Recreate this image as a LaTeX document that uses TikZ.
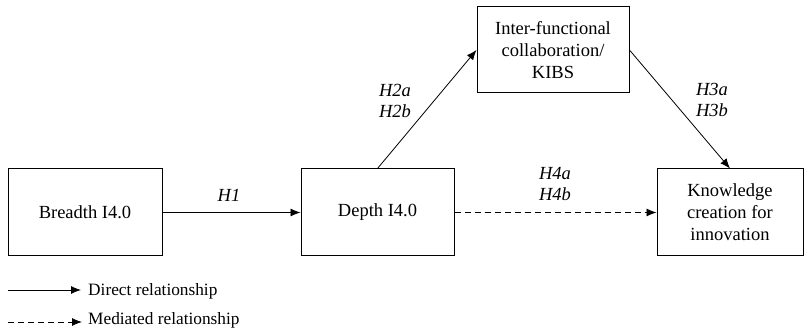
\documentclass[tikz,border=0pt]{standalone}
\usepackage{fontspec}
\setmainfont{Liberation Serif}
\usetikzlibrary{arrows.meta}
\begin{document}
\begin{tikzpicture}[x=1pt,y=-1pt,
  box/.style={draw,line width=1pt,align=center,inner sep=0pt,font=\fontsize{18.5}{22}\selectfont},
  lab/.style={align=center,inner sep=0pt,font=\fontsize{18.5}{21}\selectfont\itshape},
  leg/.style={anchor=base west,inner sep=0pt,font=\fontsize{17.3}{20}\selectfont},
  arr/.style={line width=0.8pt,-{Latex[length=10pt,width=8pt]}},
  dsh/.style={arr,dash pattern=on 6pt off 4pt}]
\useasboundingbox (0,0) rectangle (804,331);
\node[box,minimum width=154pt,minimum height=87pt] (br) at (85,212.5) {Breadth I4.0};
\node[box,minimum width=153pt,minimum height=87pt] (de) at (377.5,212.5) {Depth I4.0};
\node[box,minimum width=152pt,minimum height=86pt] (in) at (553,50) {Inter-functional\\collaboration/\\KIBS};
\node[box,minimum width=146pt,minimum height=87pt] (kn) at (730,212.5) {Knowledge\\creation for\\innovation};
\draw[arr] (br.east) -- (de.west);
\draw[arr] (de.north) -- (in.west);
\draw[arr] (in.east) -- (kn.north);
\draw[dsh] (de.east) -- (kn.west);
\node[lab] (h1) at (229,195) {H1};
\node[lab] (h2) at (395,101) {H2a\\H2b};
\node[lab] (h3) at (712,100) {H3a\\H3b};
\node[lab] (h4) at (555,184) {H4a\\H4b};
\coordinate (l1a) at (8,290);
\coordinate (l1b) at (81,290);
\coordinate (l2a) at (8,322);
\coordinate (l2b) at (82,322);
\draw[arr] (l1a) -- (l1b);
\draw[dsh] (l2a) -- (l2b);
\node[leg] (t1) at (88,296) {Direct relationship};
\node[leg] (t2) at (88,325) {Mediated relationship};
\end{tikzpicture}
\end{document}
